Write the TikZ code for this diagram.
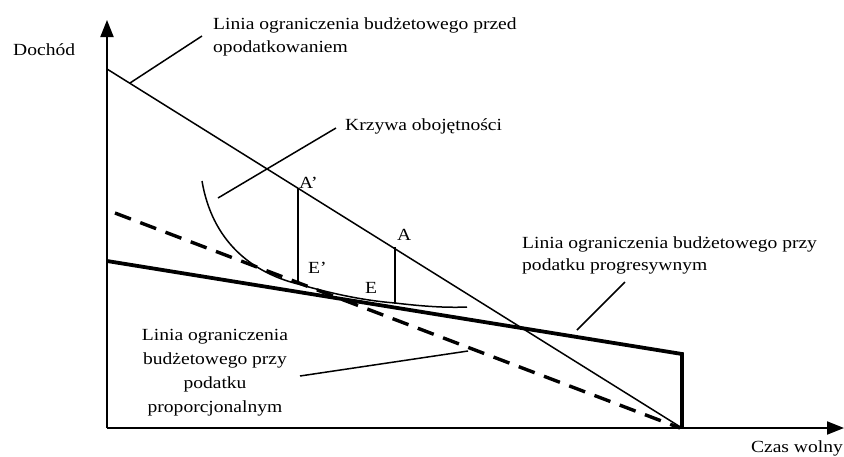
\documentclass[tikz,border=0pt]{standalone}
\usepackage{fontspec}
\setmainfont[FakeStretch=1.15]{Liberation Serif}
\usetikzlibrary{arrows.meta}
\begin{document}
\begin{tikzpicture}[x=1pt,y=-1pt,
  lbl/.style={font=\fontsize{17}{22}\selectfont, inner sep=0pt},
  axis/.style={line width=2pt,-{Triangle[length=17pt,width=13pt]}},
  thin/.style={line width=1.5pt},
  thick/.style={line width=3.8pt},
  dsh/.style={line width=3.4pt, dash pattern=on 17pt off 10pt},
  leader/.style={line width=1.5pt}]
\useasboundingbox (0,0) rectangle (844,456);
% axes
\coordinate (O) at (107,428);
\coordinate (Ytip) at (107,20);
\coordinate (Xtip) at (844,428);
\draw[axis] (O) -- (Ytip);
\draw[axis] (O) -- (Xtip);
% budget lines
\coordinate (B0) at (107,69);
\coordinate (B1) at (682,428);
\draw[thin] (B0) -- (B1);
\coordinate (P0) at (107,261);
\coordinate (P1) at (682,354);
\coordinate (P2) at (682,428);
\draw[thick, line join=miter] (P0) -- (P1) -- (P2);
\coordinate (D0) at (115,213);
\coordinate (D1) at (680,428);
\draw[dsh] (D0) -- (D1);
% indifference curve
\coordinate (C0) at (202,181);
\coordinate (C1) at (298,284);
\coordinate (C2) at (395,303);
\coordinate (C3) at (467,307);
\draw[thin] (C0) .. controls (212,240) and (250,272) .. (C1)
  .. controls (340,296) and (370,301) .. (C2)
  .. controls (420,306) and (445,308) .. (C3);
% verticals
\coordinate (Ap) at (298,188);
\coordinate (A) at (395,247);
\coordinate (Ep) at (298,284);
\coordinate (E) at (395,304);
\draw[thin] (Ap) -- (Ep);
\draw[thin] (A) -- (E);
% point labels
\node[lbl, anchor=base west] (lAp) at (299,188) {A’};
\node[lbl, anchor=base west] (lA) at (397,240) {A};
\node[lbl, anchor=base west] (lEp) at (308,273) {E’};
\node[lbl, anchor=base west] (lE) at (365,293) {E};
% axis labels
\node[lbl, anchor=base west] (ldoch) at (13,55) {Dochód};
\node[lbl, anchor=base east] (lczas) at (843,452) {Czas wolny};
% descriptive labels
\node[lbl, anchor=north west, align=left] (lpre) at (213,18) {Linia ograniczenia budżetowego przed\\opodatkowaniem};
\node[lbl, anchor=base west] (lkrz) at (345,130) {Krzywa obojętności};
\node[lbl, anchor=north west, align=left] (lprog) at (522,236) {Linia ograniczenia budżetowego przy\\podatku progresywnym};
\node[lbl, align=center, font=\fontsize{17}{24}\selectfont] (lprop) at (215,373) {Linia ograniczenia\\budżetowego przy\\podatku\\proporcjonalnym};
% leaders
\coordinate (Lp0) at (202,36);
\coordinate (Lp1) at (130,83);
\draw[leader] (Lp0) -- (Lp1);
\coordinate (Lk0) at (336,128);
\coordinate (Lk1) at (218,198);
\draw[leader] (Lk0) -- (Lk1);
\coordinate (Lg0) at (625,282);
\coordinate (Lg1) at (577,330);
\draw[leader] (Lg0) -- (Lg1);
\coordinate (Lr0) at (300,376);
\coordinate (Lr1) at (468,351);
\draw[leader] (Lr0) -- (Lr1);
\end{tikzpicture}
\end{document}
